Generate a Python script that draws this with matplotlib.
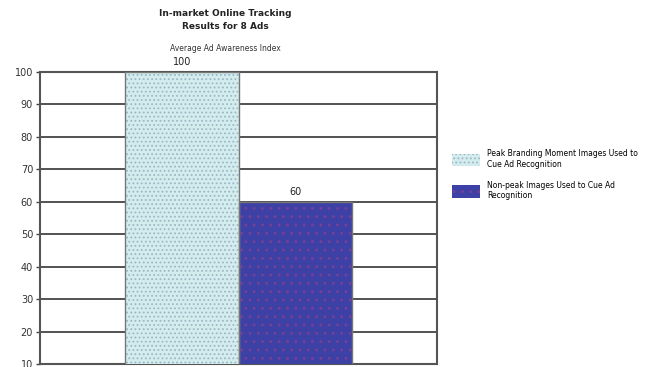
import numpy as np
import matplotlib.pyplot as plt
from matplotlib.patches import Patch

plt.rcParams['hatch.linewidth'] = 0.8

categories = ["Peak Branding Moment Images Used to\nCue Ad Recognition",
              "Non-peak Images Used to Cue Ad\nRecognition"]
values = [100, 60]
face_colors = ["#d3ecee", "#3d41a6"]
hatch_colors = ["#9fb6c4", "#7a3f93"]
y_ticks = [10, 20, 30, 40, 50, 60, 70, 80, 90, 100]

fig = plt.figure(figsize=(6.53, 3.67), dpi=100)
ax = fig.add_axes([0.0613, 0.008, 0.608, 0.796])

x = np.arange(len(values))
for i, (v, fc, hc) in enumerate(zip(values, face_colors, hatch_colors)):
    ax.bar(x[i], v, width=1.0, bottom=0, color=fc, edgecolor=hc,
           hatch="...." if i == 0 else "..", linewidth=0, zorder=3)
    ax.bar(x[i], v, width=1.0, bottom=0, fill=False, edgecolor="#777777",
           linewidth=1.0, zorder=4)
    ax.text(x[i], v + 1.5, str(v), ha="center", va="bottom", fontsize=7,
            color="#222222", zorder=5)

ax.set_xlim(-1.25, 2.25)
ax.set_ylim(10, 100)
ax.set_yticks(y_ticks)
ax.set_xticks([])
ax.tick_params(axis="y", labelsize=7, length=3, width=1, color="#444444",
               labelcolor="#333333", pad=2)
ax.yaxis.grid(True, color="#444444", linewidth=1.3, zorder=1)
for s in ax.spines.values():
    s.set_color("#555555")
    s.set_linewidth(1.5)

fig.text(0.345, 0.945, "In-market Online Tracking\nResults for 8 Ads", ha="center",
         va="center", fontsize=6.5, fontweight="bold", color="#222222",
         linespacing=1.5)
fig.text(0.345, 0.868, "Average Ad Awareness Index", ha="center", va="center",
         fontsize=5.5, color="#333333")

handles = [Patch(facecolor=face_colors[0], edgecolor=hatch_colors[0], hatch="....", linewidth=0),
           Patch(facecolor=face_colors[1], edgecolor=hatch_colors[1], hatch="..", linewidth=0)]
fig.legend(handles, categories, loc="upper left", bbox_to_anchor=(0.682, 0.612),
           frameon=False, fontsize=5.5, handlelength=3.6, handleheight=2.2,
           labelspacing=1.6, handletextpad=1.0)

fig.savefig("out.png", dpi=100)
